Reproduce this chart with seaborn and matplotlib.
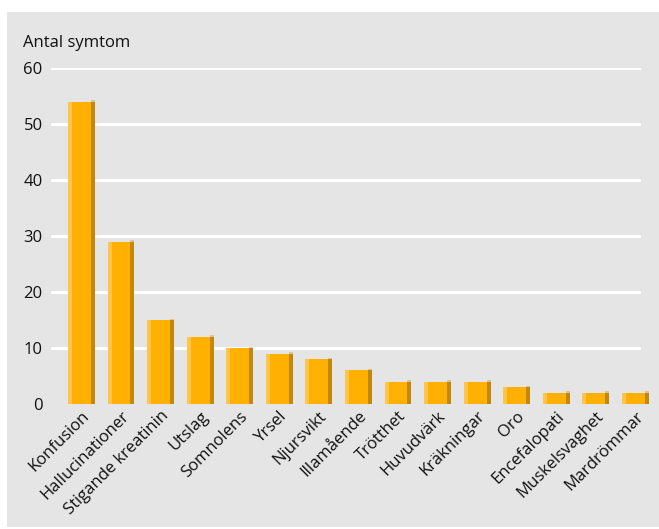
import matplotlib
matplotlib.use("Agg")
import matplotlib.pyplot as plt
from matplotlib.patches import Rectangle
import numpy as np
import pandas as pd
import seaborn as sns

symptoms = ["Konfusion", "Hallucinationer", "Stigande kreatinin", "Utslag",
            "Somnolens", "Yrsel", "Njursvikt", "Illamående", "Trötthet",
            "Huvudvärk", "Kräkningar", "Oro", "Encefalopati",
            "Muskelsvaghet", "Mardrömmar"]
counts = [54, 29, 15, 12, 10, 9, 8, 6, 4, 4, 4, 3, 2, 2, 2]
y_ticks = [0, 10, 20, 30, 40, 50, 60]
y_label = "Antal symtom"

BG = "#e5e5e5"
MAIN = "#ffb000"
LIGHT = "#ffc54a"
DARK = "#c2880c"
FS = 12

sns.set_theme(style="white")
plt.rcParams["font.family"] = ["Open Sans", "DejaVu Sans"]

fig = plt.figure(figsize=(6.59, 5.29), dpi=100, facecolor="white")
# grey panel behind the chart
panel = Rectangle((7 / 659, 0.004), 1.0, (529 - 12) / 529 - 0.004,
                  transform=fig.transFigure, facecolor=BG,
                  edgecolor="none", zorder=-10)
fig.add_artist(panel)

ax = fig.add_axes([51 / 659, 125 / 529, 590 / 659, 336 / 529])
ax.set_zorder(1)
ax.patch.set_alpha(0)

df = pd.DataFrame({"symptom": symptoms, "count": counts})
width = 0.68
sns.barplot(data=df, x="symptom", y="count", color=MAIN, width=width,
            saturation=1, ax=ax, zorder=3, linewidth=0, edgecolor="none")
for p in ax.patches:
    p.set_clip_on(False)

# shaded edges give the bars a bevelled look
xpos = np.arange(len(counts))
strip = width * 0.15
ax.bar(xpos - width / 2 + strip / 2, counts, width=strip, color=LIGHT,
       zorder=4, clip_on=False, linewidth=0)
ax.bar(xpos + width / 2 - strip / 2, counts, width=strip, color=DARK,
       zorder=4, clip_on=False, linewidth=0)
ax.bar(xpos + width / 2 - strip / 2, np.full(len(counts), 0.25),
       bottom=counts, width=strip, color=DARK, alpha=0.35, zorder=4,
       clip_on=False, linewidth=0)

ax.set_xlim(-0.77, 14.14)
ax.set_ylim(0, 60)
ax.set_yticks(y_ticks)
for t in y_ticks[1:]:
    ax.axhline(t, color="white", lw=2.2, zorder=1)

for s in ax.spines.values():
    s.set_visible(False)
ax.tick_params(axis="both", length=0, labelsize=FS, colors="#111111")
ax.tick_params(axis="y", pad=6)
ax.tick_params(axis="x", pad=3)
ax.set_xlabel("")
ax.set_ylabel("")
ax.set_xticks(xpos)
ax.set_xticklabels(symptoms, rotation=45, ha="right", rotation_mode="anchor",
                   fontsize=FS)

fig.text(23 / 659, 1 - 43 / 529, y_label, fontsize=FS, ha="left",
         va="center", color="#111111")

fig.savefig("out.png", dpi=100, facecolor="white")
